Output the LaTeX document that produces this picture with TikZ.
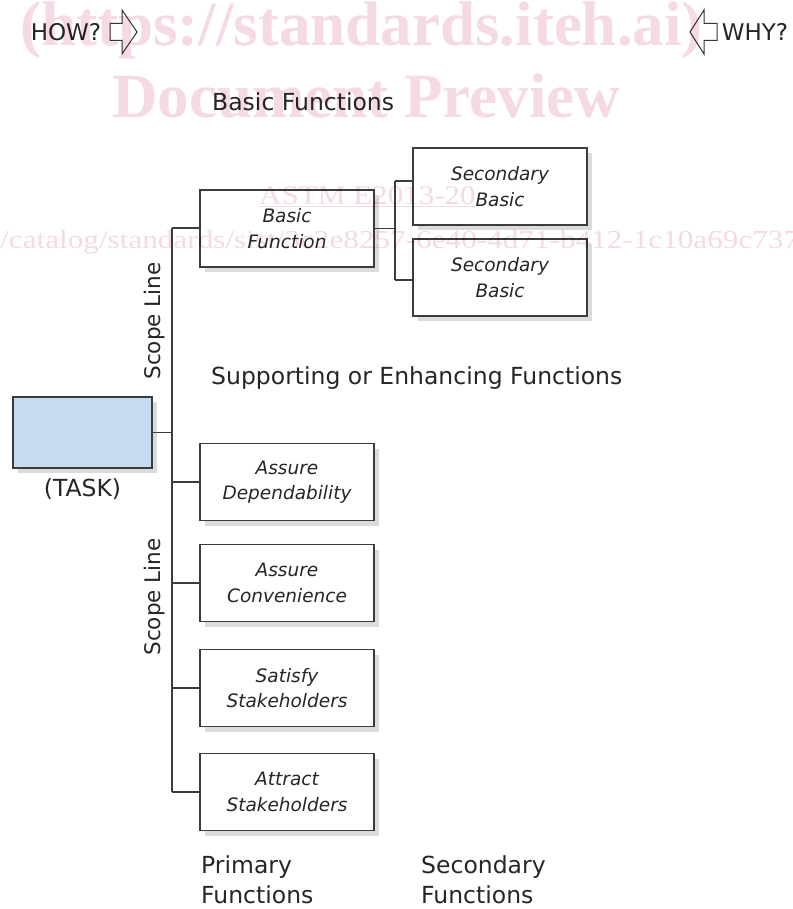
\documentclass[tikz,border=0pt]{standalone}
\usepackage{fontspec}
\setmainfont{DejaVu Sans}
\newfontfamily\wmfont{Liberation Serif}
\definecolor{wmpink}{RGB}{246,218,226}
\definecolor{taskblue}{RGB}{197,220,240}
\definecolor{edge}{RGB}{60,60,60}
\begin{document}
\begin{tikzpicture}[x=1pt,y=-1pt,
  fbox/.style={draw=edge, line width=1.3pt, fill=white, minimum width=174pt, minimum height=77pt,
    inner sep=0pt, align=center, font=\itshape\fontsize{18.5}{25.5}\selectfont, text=black!85,
    preaction={draw=none, fill=black!14, transform canvas={xshift=5pt,yshift=-5pt}}},
  lbl/.style={inner sep=0pt, font=\fontsize{23.5}{30}\selectfont, text=black!85},
  conn/.style={draw=edge, line width=1.3pt},
  harrow/.style={draw=black!80, line width=1pt, fill=white, line join=miter},
  wm/.style={inner sep=0pt, text=wmpink}]
\useasboundingbox (0,0) rectangle (792,909);
\fill[white] (0,0) rectangle (792,909);

% nodes
\node[fbox, minimum width=139pt, minimum height=71pt, fill=taskblue] (task) at (82.5,432.5) {};
\node[lbl, anchor=north] (tasklbl) at (82.5,478) {(TASK)};
\node[fbox] (bf) at (287,228.5) {Basic\\Function};
\node[fbox] (sb1) at (500,186.5) {Secondary\\Basic};
\node[fbox] (sb2) at (500,277.5) {Secondary\\Basic};
\node[fbox] (ad) at (287,482) {Assure\\Dependability};
\node[fbox] (ac) at (287,583) {Assure\\Convenience};
\node[fbox] (ss) at (287,688) {Satisfy\\Stakeholders};
\node[fbox] (as) at (287,792) {Attract\\Stakeholders};

% connectors
\coordinate (st) at (172,228);
\coordinate (sbm) at (172,792);
\draw[conn] (st) -- (sbm);
\draw[conn] (st) -- (st -| bf.west);
\draw[conn] (task.east) -- (task.east -| st);
\draw[conn] (ad.west) -- (ad.west -| st);
\draw[conn] (ac.west) -- (ac.west -| st);
\draw[conn] (ss.west) -- (ss.west -| st);
\draw[conn] (as.west) -- (as.west -| st);
\coordinate (jt) at (395,181);
\coordinate (jb) at (395,280);
\draw[conn] (bf.east) -- (bf.east -| jt);
\draw[conn] (jt) -- (jb);
\draw[conn] (jt) -- (jt -| sb1.west);
\draw[conn] (jb) -- (jb -| sb2.west);

% labels
\node[lbl, font=\fontsize{23}{30}\selectfont] (how) at (66,32) {HOW?};
\draw[harrow] (110,23.5) -- (122,23.5) -- (122,10) -- (137,32) -- (122,54) -- (122,40.5) -- (110,40.5) -- cycle;
\draw[harrow] (717,23.5) -- (704,23.5) -- (704,10) -- (690,32) -- (704,54) -- (704,40.5) -- (717,40.5) -- cycle;
\node[lbl, font=\fontsize{23}{30}\selectfont] (why) at (755,32) {WHY?};
\node[lbl, anchor=west] (basicf) at (212,102) {Basic Functions};
\node[lbl, anchor=west] (supf) at (211,378) {Supporting or Enhancing Functions};
\node[lbl, rotate=90, font=\fontsize{21.5}{30}\selectfont] (sl1) at (155,321) {Scope Line};
\node[lbl, rotate=90, font=\fontsize{21.5}{30}\selectfont] (sl2) at (155,597) {Scope Line};
\node[lbl, anchor=north west, align=left] (prim) at (201,855) {Primary\\Functions};
\node[lbl, anchor=north west, align=left] (sec) at (421,855) {Secondary\\Functions};

% watermark
\begin{scope}[blend mode=multiply]
\clip (0,0) rectangle (792,909);
\node[wm, anchor=base west, font=\wmfont\bfseries\fontsize{63}{63}\selectfont] (wm1) at (20,46) {(https://standards.iteh.ai)};
\node[wm, anchor=base west, font=\wmfont\bfseries\fontsize{63}{63}\selectfont] (wm2) at (112,118) {Document Preview};
\node[wm, anchor=base west, xscale=1.15, font=\wmfont\fontsize{27}{27}\selectfont] (wm3) at (259,205) {\underline{ASTM E2013-20}};
\node[wm, anchor=base west, xscale=1.2, font=\wmfont\fontsize{26}{26}\selectfont] (wm4) at (0,248) {/catalog/standards/sist/3c2e8257-6e40-4d71-b412-1c10a69c737};
\end{scope}
\end{tikzpicture}
\end{document}
